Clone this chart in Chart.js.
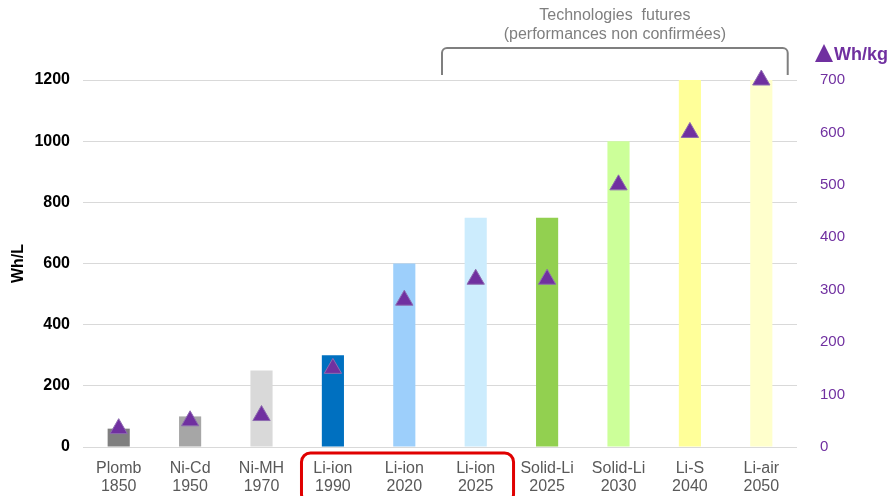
<!DOCTYPE html>
<html>
<head>
<meta charset="utf-8">
<script src="https://cdn.jsdelivr.net/npm/chart.js@4/dist/chart.umd.min.js"></script>
<style>
  html, body { margin: 0; padding: 0; background: #fff; }
  #wrap { width: 893px; height: 496px; }
</style>
</head>
<body>
<div id="wrap"><canvas id="energyChart"></canvas></div>
<script>
// categories (2 lines each)
var labels = [
    ['Plomb', '1850'], ['Ni-Cd', '1950'], ['Ni-MH', '1970'],
    ['Li-ion', '1990'], ['Li-ion', '2020'], ['Li-ion', '2025'],
    ['Solid-Li', '2025'], ['Solid-Li', '2030'], ['Li-S', '2040'], ['Li-air', '2050']
];
var whPerLitre = [60, 100, 250, 300, 600, 750, 750, 1000, 1200, 1200];
var whPerKg = [35, 50, 60, 150, 280, 320, 320, 500, 600, 700];
var barColors = ['#7f7f7f', '#a6a6a6', '#d9d9d9', '#0070c0', '#9dcffb', '#ccecfd',
                 '#92d050', '#ccff99', '#ffff99', '#ffffcc'];
var leftTicks = [0, 200, 400, 600, 800, 1000, 1200];
var rightTicks = [0, 100, 200, 300, 400, 500, 600, 700];

var FONT = "'Liberation Sans', Arial, sans-serif";
var PURPLE = '#7030a0';

function roundRect(ctx, x, y, w, h, r) {
    ctx.beginPath();
    ctx.moveTo(x + r, y);
    ctx.lineTo(x + w - r, y);
    ctx.arcTo(x + w, y, x + w, y + r, r);
    ctx.lineTo(x + w, y + h - r);
    ctx.arcTo(x + w, y + h, x + w - r, y + h, r);
    ctx.lineTo(x + r, y + h);
    ctx.arcTo(x, y + h, x, y + h - r, r);
    ctx.lineTo(x, y + r);
    ctx.arcTo(x, y, x + r, y, r);
    ctx.closePath();
}

var extras = {
    id: 'extras',
    afterDraw: function (chart) {
        var ctx = chart.ctx;
        var xs = chart.scales.x;
        var step = xs.getPixelForValue(1) - xs.getPixelForValue(0);
        ctx.save();

        // bracket over future technologies
        var bx1 = (xs.getPixelForValue(4) + xs.getPixelForValue(5)) / 2 + 2;
        var bx2 = xs.getPixelForValue(9) + step * 0.37;
        var by1 = 48, by2 = 75, r = 5;
        ctx.strokeStyle = '#7f7f7f';
        ctx.lineWidth = 2;
        ctx.beginPath();
        ctx.moveTo(bx1, by2);
        ctx.lineTo(bx1, by1 + r);
        ctx.arcTo(bx1, by1, bx1 + r, by1, r);
        ctx.lineTo(bx2 - r, by1);
        ctx.arcTo(bx2, by1, bx2, by1 + r, r);
        ctx.lineTo(bx2, by2);
        ctx.stroke();

        ctx.fillStyle = '#7f7f7f';
        ctx.font = '16px ' + FONT;
        ctx.textAlign = 'center';
        ctx.textBaseline = 'middle';
        var cx = (bx1 + bx2) / 2;
        ctx.fillText('Technologies  futures', cx, 16);
        ctx.fillText('(performances non confirmées)', cx, 35);

        // red box around Li-ion labels
        var rx1 = xs.getPixelForValue(3) - step * 0.44;
        var rx2 = xs.getPixelForValue(5) + step * 0.53;
        ctx.strokeStyle = '#e00000';
        ctx.lineWidth = 3;
        roundRect(ctx, rx1, 453, rx2 - rx1, 50, 9);
        ctx.stroke();

        // right axis header
        var y2 = chart.scales.y2;
        var tx = y2.left + 27;
        ctx.fillStyle = PURPLE;
        ctx.beginPath();
        ctx.moveTo(tx, 44);
        ctx.lineTo(tx - 9, 62);
        ctx.lineTo(tx + 9, 62);
        ctx.closePath();
        ctx.fill();
        ctx.font = 'bold 18px ' + FONT;
        ctx.textAlign = 'left';
        ctx.fillText('Wh/kg', tx + 10, 55);

        ctx.restore();
    }
};

var ctx = document.getElementById('energyChart').getContext('2d');
var chart = new Chart(ctx, {
    data: {
        labels: labels,
        datasets: [
            {
                type: 'scatter',
                label: 'Wh/kg',
                data: whPerKg,
                yAxisID: 'y2',
                showLine: false,
                pointStyle: 'triangle',
                pointRadius: 10,
                backgroundColor: PURPLE,
                borderColor: '#8e6bb0',
                borderWidth: 1,
                clip: false,
                order: 0
            },
            {
                type: 'bar',
                label: 'Wh/L',
                data: whPerLitre,
                yAxisID: 'y',
                backgroundColor: barColors,
                borderWidth: 0,
                categoryPercentage: 1,
                barPercentage: 0.31,
                order: 1
            }
        ]
    },
    options: {
        responsive: true,
        maintainAspectRatio: false,
        animation: false,
        layout: { padding: { top: 80, bottom: 0, left: 0, right: 0 } },
        plugins: {
            legend: { display: false },
            tooltip: { enabled: false }
        },
        scales: {
            x: {
                type: 'category',
                grid: { display: false },
                border: { display: false },
                ticks: {
                    color: '#595959',
                    font: { family: FONT, size: 16, lineHeight: 1.12 },
                    padding: 5,
                    maxRotation: 0,
                    autoSkip: false
                },
                afterFit: function (s) { s.height = 49; }
            },
            y: {
                position: 'left',
                min: 0,
                max: 1200,
                afterBuildTicks: function (s) { s.ticks = leftTicks.map(function (v) { return { value: v }; }); },
                grid: { color: '#d9d9d9', drawTicks: false },
                border: { display: false },
                ticks: {
                    color: '#000',
                    font: { family: FONT, size: 16, weight: 'bold' },
                    padding: 13,
                    callback: function (v) { return String(v); }
                },
                title: {
                    display: true,
                    text: 'Wh/L',
                    color: '#000',
                    font: { family: FONT, size: 16, weight: 'bold' },
                    padding: { top: 9, bottom: 0 }
                },
                afterFit: function (s) { s.width = 83; }
            },
            y2: {
                position: 'right',
                min: 0,
                max: 700,
                afterBuildTicks: function (s) { s.ticks = rightTicks.map(function (v) { return { value: v }; }); },
                grid: { display: false },
                border: { display: false },
                ticks: {
                    color: PURPLE,
                    font: { family: FONT, size: 15 },
                    padding: 15,
                    callback: function (v) { return String(v); }
                },
                afterFit: function (s) { s.width = 96; }
            }
        }
    },
    plugins: [extras]
});
</script>
</body>
</html>
